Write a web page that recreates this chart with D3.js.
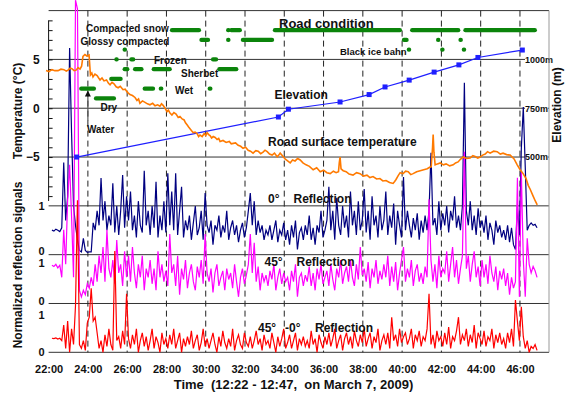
<!DOCTYPE html>
<html>
<head>
<meta charset="utf-8">
<script src="https://cdn.jsdelivr.net/npm/d3@7"></script>
<style>
  body { margin: 0; background: #fff; }
  svg { display: block; font-family: "Liberation Sans", Arial, sans-serif; font-weight: bold; }
  text { white-space: pre; }
</style>
</head>
<body>
<div id="chart"></div>
<script>
// time is in minutes after 12:00, so 22 means 12:22
const xTicks = [22, 24, 26, 28, 30, 32, 34, 36, 38, 40, 42, 44, 46];
const tempTicks = [5, 0, -5];
const elevTicks = [500, 750, 1000];

// road surface temperature [time, degC]
const roadTemp = [
  [21.87,3.86],[22.02,3.75],[22.17,3.95],[22.32,3.85],[22.48,3.85],[22.63,4.0],[22.78,3.95],[22.9,3.8],[22.99,3.9],[23.1,4.1],
  [23.19,4.05],[23.3,3.85],[23.4,3.9],[23.5,4.15],[23.6,4.0],[23.68,4.3],[23.75,5.3],[23.85,5.5],[23.95,5.35],[24.06,5.45],
  [24.13,3.4],[24.2,3.6],[24.26,3.2],[24.36,3.5],[24.47,3.35],[24.55,3.1],[24.62,2.9],[24.72,3.1],[24.82,2.8],[24.95,2.9],
  [25.05,2.55],[25.13,2.4],[25.23,2.65],[25.33,2.5],[25.44,2.2],[25.54,2.1],[25.65,2.25],[25.79,1.9],[25.9,1.95],[25.99,1.7],
  [26.06,1.55],[26.14,1.4],[26.27,1.3],[26.4,1.1],[26.5,0.8],[26.58,0.95],[26.65,0.5],[26.78,0.75],[26.91,0.6],[27.03,0.45],
  [27.16,0.35],[27.3,0.5],[27.42,0.25],[27.55,0.35],[27.67,0.2],[27.75,0.45],[27.83,0.3],[27.93,0.0],[28.03,-0.35],[28.1,-0.2],
  [28.18,-0.5],[28.28,-0.7],[28.38,-0.45],[28.49,-0.6],[28.6,-0.95],[28.69,-0.85],[28.8,-1.1],[28.9,-1.2],[28.97,-1.5],[29.05,-1.7],
  [29.12,-1.9],[29.2,-2.1],[29.28,-2.3],[29.36,-2.5],[29.46,-2.45],[29.56,-2.6],[29.64,-2.9],[29.71,-2.75],[29.82,-2.9],[29.92,-2.6],
  [30.0,-2.8],[30.07,-2.5],[30.15,-2.7],[30.22,-2.8],[30.3,-3.05],[30.38,-2.9],[30.48,-3.0],[30.58,-3.2],[30.66,-3.1],[30.73,-3.4],
  [30.88,-3.3],[31.04,-3.5],[31.2,-3.4],[31.3,-3.65],[31.4,-3.6],[31.52,-3.55],[31.65,-3.8],[31.78,-3.9],[31.9,-4.1],[32.03,-4.0],
  [32.16,-4.3],[32.28,-4.4],[32.41,-4.6],[32.55,-4.35],[32.67,-4.4],[32.8,-4.65],[32.92,-4.5],[33.02,-4.3],[33.13,-4.45],[33.25,-4.7],
  [33.38,-4.8],[33.5,-4.6],[33.64,-4.97],[33.72,-4.8],[33.79,-4.6],[33.92,-4.9],[34.04,-5.2],[34.17,-5.4],[34.3,-5.6],[34.42,-5.3],
  [34.55,-5.4],[34.68,-5.15],[34.81,-5.3],[34.95,-5.6],[35.11,-5.8],[35.28,-5.95],[35.47,-6.3],[35.65,-6.1],[35.83,-6.5],[36.0,-6.35],
  [36.17,-6.6],[36.34,-6.7],[36.5,-6.45],[36.64,-6.6],[36.76,-6.5],[36.8,-5.6],[36.84,-5.0],[36.89,-6.2],[37.0,-6.4],[37.15,-6.5],
  [37.3,-6.75],[37.5,-6.85],[37.68,-6.6],[37.86,-6.7],[38.03,-6.95],[38.21,-6.85],[38.36,-7.1],[38.52,-7.0],[38.7,-7.25],[38.87,-7.2],
  [39.02,-7.45],[39.18,-7.4],[39.36,-7.6],[39.54,-7.7],[39.62,-7.5],[39.69,-7.3],[39.8,-6.9],[39.9,-6.6],[40.05,-6.7],[40.18,-6.45],
  [40.31,-6.5],[40.44,-6.8],[40.56,-6.7],[40.74,-6.5],[40.92,-6.4],[41.1,-6.3],[41.28,-6.2],[41.4,-6.05],[41.48,-6.0],[41.55,-4.0],
  [41.58,-2.7],[41.62,-4.5],[41.68,-5.8],[41.8,-5.7],[41.94,-5.6],[42.1,-5.8],[42.24,-5.7],[42.42,-5.9],[42.6,-5.8],[42.72,-5.6],
  [42.85,-5.5],[42.98,-5.2],[43.11,-5.0],[43.28,-5.15],[43.46,-5.1],[43.6,-4.85],[43.72,-4.95],[43.85,-5.1],[43.97,-5.0],[44.1,-4.8],
  [44.23,-4.7],[44.35,-4.45],[44.48,-4.6],[44.66,-4.4],[44.84,-4.45],[45.0,-4.7],[45.14,-4.6],[45.32,-4.75],[45.5,-4.8],[45.6,-5.0],
  [45.7,-5.2],[45.86,-5.8],[46.01,-6.3],[46.16,-6.7],[46.31,-7.2],[46.42,-7.9],[46.52,-8.3],[46.67,-9.0],[46.78,-9.5],[46.88,-9.9]
];

// elevation [time, m]
const elevation = [
  [23.43,500],[33.70,705],[34.21,745],[36.84,782],[38.32,820],[39.13,859],
  [40.36,894],[41.63,935],[42.89,972],[43.86,1010],[46.12,1048]
];

// road condition levels (1 = Dry ... 8 = Compacted snow), segments [level, from, to]
const roadSegments = [
  [8,28.18,29.76],[8,31.04,31.04],[8,31.2,31.84],[8,33.42,39.99],[8,40.41,42.96],[8,43.12,46.86],
  [7,29.68,30.22],[7,31.04,31.2],[7,31.79,33.48],[7,39.99,40.33],[7,41.73,41.85],[7,42.87,43.09],
  [6,25.77,25.77],[6,40.24,40.44],[6,41.94,42.11],[6,43.04,43.23],
  [5,25.35,25.35],[5,26.11,26.41],[5,30.27,30.63],
  [4,25.77,26.11],[4,26.3,26.83],[4,27.25,28.27],[4,30.59,31.66],
  [3,25.09,25.77],
  [2,23.56,24.41],[2,26.79,27.42],[2,27.61,27.84],[2,30.1,30.34],
  [1,24.31,25.43]
];

// normalized reflection signals, one sample every 0.1 min from 22.17
const signalStart = 22.17;
const signalStep = 0.1;
const refl0 = [
  0.5,0.48,0.52,0.5,0.47,0.55,1.9,0.7,1.2,4.27,
  2.5,1.0,0.6,0.3,0.08,0.05,0.33,0.08,0.04,0.05,
  0.05,0.65,0.5,0.9,0.6,1.58,0.7,1.1,0.5,0.8,
  0.6,1.47,0.45,1.0,0.4,0.9,1.64,0.55,1.2,0.7,
  1.3,0.5,0.8,0.35,1.1,0.6,0.45,1.73,0.6,0.9,
  0.4,1.0,0.55,1.5,0.35,0.8,0.5,1.1,0.45,1.68,
  0.6,1.3,0.5,1.68,0.4,0.9,1.4,0.35,0.7,0.5,
  0.8,0.3,0.65,1.0,0.4,0.55,0.9,0.3,1.27,0.6,
  0.45,0.7,0.2,0.6,0.5,0.8,0.35,0.6,0.45,0.9,
  0.3,0.55,0.7,0.4,0.6,0.25,0.5,0.65,0.35,0.55,
  0.9,1.27,0.6,1.1,0.4,0.7,0.45,0.6,0.3,0.5,
  0.4,0.6,0.3,0.5,0.7,0.25,0.5,0.4,0.65,0.3,
  0.5,0.2,0.6,0.35,0.7,0.1,0.45,0.55,0.3,0.6,
  0.4,0.8,0.3,0.55,0.2,0.6,0.45,0.9,0.35,0.5,
  0.7,1.4,0.5,0.9,0.3,1.17,0.6,0.4,1.0,0.55,
  0.8,0.35,1.3,0.6,0.9,0.4,1.1,0.5,0.7,1.35,
  0.45,0.9,0.3,1.2,0.6,0.8,0.35,1.0,0.5,0.7,
  1.3,0.4,0.8,0.55,1.05,0.2,0.9,0.6,0.35,1.6,
  0.5,0.9,0.6,0.35,0.75,0.5,0.85,0.3,0.7,0.45,
  0.8,0.5,0.9,2.1,0.6,0.75,0.4,1.1,0.5,0.85,
  0.6,1.0,0.45,0.9,0.7,1.2,0.55,0.8,0.5,1.0,
  3.55,0.9,0.6,1.1,0.5,0.8,0.4,0.95,0.55,0.7,
  0.45,0.8,0.3,0.65,0.5,0.2,0.7,0.45,0.6,0.35,
  0.5,0.3,0.6,0.25,0.55,0.2,0.1,1.0,0.4,2.2,
  3.05,1.8,0.5,0.6,0.65,0.6,0.62,0.55
];
const refl45 = [
  0.88,0.85,0.9,0.82,0.88,0.6,1.7,0.9,2.4,3.2,
  2.0,0.6,7.0,6.8,0.3,0.15,0.3,0.2,0.45,0.35,
  0.6,0.4,0.9,0.5,1.1,0.7,1.3,0.5,1.7,0.8,
  0.6,1.0,0.45,1.46,0.7,0.9,0.4,1.2,0.6,1.1,
  0.5,1.3,0.7,0.35,0.9,0.6,1.1,0.3,0.8,0.6,
  1.0,0.45,0.8,0.3,1.2,0.6,0.9,0.5,0.75,0.4,
  1.6,0.7,0.9,0.4,1.1,0.2,0.8,0.55,1.0,0.35,
  0.7,0.9,0.5,0.3,0.85,0.6,1.0,0.45,1.6,0.7,
  0.5,0.8,0.25,0.7,0.9,0.4,0.6,0.75,0.3,0.8,
  0.55,0.7,0.35,0.9,0.5,0.15,0.6,0.8,0.45,0.65,
  0.9,1.6,0.7,1.4,0.5,0.85,0.3,0.7,0.5,0.65,
  0.4,0.75,0.55,0.9,0.3,0.6,0.8,0.45,0.7,0.5,
  0.6,0.3,0.75,0.5,0.9,0.15,0.6,0.7,0.4,0.65,
  0.5,0.85,0.4,0.7,0.3,0.8,0.55,0.9,0.45,0.6,
  0.75,0.4,0.9,0.55,0.3,0.8,0.6,1.0,0.45,0.7,
  0.85,0.5,1.0,0.6,0.4,0.9,0.55,1.3,0.65,0.8,
  0.5,0.95,0.35,0.8,0.6,1.0,0.45,0.75,0.55,0.9,
  0.6,1.1,0.4,0.85,0.5,0.95,0.3,0.7,1.0,1.3,
  0.5,0.8,0.6,1.0,0.4,0.75,0.9,0.5,0.7,0.45,
  0.85,0.6,2.4,1.0,0.5,0.9,0.35,1.1,0.6,0.8,
  0.7,1.2,0.5,0.9,1.3,0.6,1.0,0.45,0.8,1.1,
  3.5,0.8,1.1,0.5,0.9,1.2,0.6,0.85,0.4,1.0,
  0.6,0.9,0.45,1.1,0.7,0.5,0.85,0.3,0.75,0.55,
  0.8,0.4,0.7,0.2,0.6,0.35,0.5,2.9,0.15,3.05,
  1.0,0.15,1.5,0.9,0.7,0.85,0.75,0.6
];
const reflDiff = [
  0.36,0.35,0.37,0.34,0.36,0.3,0.7,0.1,0.8,0.0,
  0.6,0.2,1.2,3.9,0.2,0.1,0.3,0.05,0.75,0.9,
  1.64,0.8,0.9,0.5,0.1,0.3,0.0,0.45,0.15,0.6,
  0.2,0.05,2.6,0.3,0.4,0.1,0.55,0.2,1.5,0.35,
  0.1,0.45,0.2,0.6,0.0,0.3,0.5,0.15,0.4,0.05,
  0.3,0.6,0.1,0.4,0.25,0.0,0.5,0.2,0.35,0.1,
  0.45,0.2,0.6,0.1,0.3,0.5,0.0,0.35,0.15,0.4,
  0.2,0.55,0.1,0.3,0.45,0.05,0.25,0.6,0.15,0.35,
  0.1,0.3,0.5,0.2,0.0,0.4,0.15,0.55,0.25,0.1,
  0.35,0.15,0.6,0.05,0.3,0.45,0.2,0.1,0.5,0.25,
  0.15,0.4,0.1,0.3,0.55,0.2,0.35,0.05,0.45,0.2,
  0.3,0.1,0.5,0.25,0.0,0.4,0.15,0.35,0.6,0.1,
  0.25,0.45,0.1,0.3,0.5,0.05,0.35,0.2,0.4,0.15,
  0.3,0.1,0.55,0.2,0.35,0.0,0.45,0.25,0.1,0.4,
  0.2,0.5,0.15,0.35,0.6,0.1,0.3,0.45,0.05,0.35,
  0.5,0.2,0.4,0.1,0.55,0.3,0.15,0.45,0.25,0.6,
  0.15,0.35,0.5,0.1,0.4,0.25,0.6,0.05,0.3,0.45,
  0.2,0.5,0.1,0.9,0.3,0.45,0.15,0.6,0.25,0.4,
  0.5,0.2,0.35,0.6,0.1,0.45,0.3,0.55,0.15,0.4,
  0.3,0.6,1.5,0.2,0.45,0.1,0.55,0.3,0.4,0.15,
  0.5,0.2,0.65,0.1,0.4,0.3,0.55,0.9,0.2,0.45,
  0.3,0.6,0.15,0.45,0.25,0.7,0.1,0.5,0.35,0.2,
  0.55,0.15,0.4,0.3,0.6,0.1,0.45,0.25,0.5,0.2,
  0.35,0.1,0.5,0.25,0.6,0.15,1.34,0.8,0.3,1.17,
  0.4,0.1,0.3,0.0,0.15,0.1,0.2,0.05
];

const width = 565, height = 394;
const ink = '#111';

const svg = d3.select('#chart')
  .append('svg')
  .attr('width', width)
  .attr('height', height);

const x = d3.scaleLinear().domain([22, 47]).range([48.6, 539.6]);
const yTemp = d3.scaleLinear().domain([-25, 10]).range([352.3, 10.6]);
const yElev = d3.scaleLinear().domain([-500, 1250]).range([352.3, 10.6]);
const yR0 = d3.scaleLinear().domain([0, 1]).range([254.3, 206]);
const yR45 = d3.scaleLinear().domain([0, 1]).range([303.3, 260]);
const yRD = d3.scaleLinear().domain([0, 1]).range([352.3, 313.3]);
const yRoad = d3.scaleLinear().domain([1, 8]).range([yTemp(1), yTemp(8)]);
const xRight = 549;

// horizontal grid, one line every 5 degC
svg.append('g')
  .selectAll('line')
  .data(d3.range(-25, 11, 5))
  .join('line')
  .attr('x1', x(22))
  .attr('x2', xRight)
  .attr('y1', d => yTemp(d))
  .attr('y2', d => yTemp(d))
  .attr('stroke', '#333')
  .attr('stroke-width', 1);

// dashed vertical grid
svg.append('g')
  .selectAll('line')
  .data(xTicks.slice(1))
  .join('line')
  .attr('x1', d => x(d))
  .attr('x2', d => x(d))
  .attr('y1', yTemp(10))
  .attr('y2', yTemp(-25))
  .attr('stroke', '#222')
  .attr('stroke-dasharray', '6,4');

// temperature axis
const tempAxis = svg.append('g')
  .attr('transform', `translate(${x(22)},0)`)
  .call(d3.axisRight(yTemp).tickValues(d3.range(-9, 10)).tickSize(4).tickFormat(''));
tempAxis.select('.domain').remove();
tempAxis.selectAll('line').attr('stroke', ink);
tempAxis.append('line')
  .attr('y1', yTemp(9))
  .attr('y2', yTemp(-9.5))
  .attr('stroke', ink);

function styleLabels(g, size) {
  g.select('.domain').remove();
  g.selectAll('text')
    .attr('fill', ink)
    .style('font-size', size + 'px')
    .style('font-weight', 'bold');
}

svg.append('g')
  .attr('transform', `translate(${x(22)},0)`)
  .call(d3.axisLeft(yTemp).tickValues(tempTicks).tickSize(0).tickPadding(9))
  .call(g => styleLabels(g, 12));

// 0 / 1 labels of the three signal bands; the stacked pairs are nudged apart
[[yR0, 0, -3], [yR45, 2.5, -2], [yRD, 2, 0]].forEach(([s, oneShift, zeroShift]) => {
  svg.append('g')
    .attr('transform', `translate(${x(22)},0)`)
    .call(d3.axisLeft(s).tickValues([0, 1]).tickSize(0).tickPadding(4).tickFormat(d3.format('d')))
    .call(g => styleLabels(g, 11))
    .selectAll('text')
    .attr('y', d => d === 1 ? oneShift : zeroShift);
});

svg.append('g')
  .attr('transform', `translate(0,${yTemp(-25)})`)
  .call(d3.axisBottom(x).tickValues(xTicks).tickSize(0).tickPadding(13).tickFormat(d => d + ':00'))
  .call(g => styleLabels(g, 11));

// elevation labels sit inside the right edge
const elevAxis = svg.append('g')
  .attr('transform', 'translate(525,0)')
  .call(d3.axisRight(yElev).tickValues(elevTicks).tickSize(0).tickPadding(0).tickFormat(d => d + 'm'))
  .call(g => styleLabels(g, 9));
elevAxis.selectAll('.tick')
  .insert('rect', 'text')
  .attr('x', 0)
  .attr('y', -5)
  .attr('width', 23)
  .attr('height', 10)
  .attr('fill', '#fff');

// right border
svg.append('line')
  .attr('x1', xRight).attr('x2', xRight)
  .attr('y1', yTemp(10)).attr('y2', yTemp(-25))
  .attr('stroke', '#999');

// reflection signals
const signalLine = s => d3.line()
  .x((d, i) => x(signalStart + i * signalStep))
  .y(d => s(d));

svg.append('path')
  .datum(refl0)
  .attr('d', signalLine(yR0))
  .attr('fill', 'none')
  .attr('stroke', '#000080')
  .attr('stroke-width', 1.2);

svg.append('path')
  .datum(refl45)
  .attr('d', signalLine(yR45))
  .attr('fill', 'none')
  .attr('stroke', '#ff00ff')
  .attr('stroke-width', 1.2);

svg.append('path')
  .datum(reflDiff)
  .attr('d', signalLine(yRD))
  .attr('fill', 'none')
  .attr('stroke', '#ff0000')
  .attr('stroke-width', 1.2);

// road condition segments
svg.append('g')
  .selectAll('line')
  .data(roadSegments)
  .join('line')
  .attr('x1', d => x(d[1]) + 2)
  .attr('x2', d => Math.max(x(d[2]) - 2, x(d[1]) + 2.3))
  .attr('y1', d => yRoad(d[0]))
  .attr('y2', d => yRoad(d[0]))
  .attr('stroke', '#0b840b')
  .attr('stroke-width', 4.2)
  .attr('stroke-linecap', 'round');

// elevation
svg.append('path')
  .datum(elevation)
  .attr('d', d3.line().x(d => x(d[0])).y(d => yElev(d[1])))
  .attr('fill', 'none')
  .attr('stroke', '#1f1fff')
  .attr('stroke-width', 1.2);

svg.append('g')
  .selectAll('rect')
  .data(elevation)
  .join('rect')
  .attr('x', d => x(d[0]) - 2.5)
  .attr('y', d => yElev(d[1]) - 2.5)
  .attr('width', 5)
  .attr('height', 5)
  .attr('fill', '#1f1fff');

// road surface temperature
svg.append('path')
  .datum(roadTemp)
  .attr('d', d3.line().x(d => x(d[0])).y(d => yTemp(d[1])))
  .attr('fill', 'none')
  .attr('stroke', '#ff7a00')
  .attr('stroke-width', 1.6);

// water arrow
svg.append('line')
  .attr('x1', x(24)).attr('x2', x(24))
  .attr('y1', 121).attr('y2', 96)
  .attr('stroke', '#555')
  .attr('stroke-width', 1.2);
svg.append('path')
  .attr('d', `M${x(24)},90.5 l-3,6 l6,0 z`)
  .attr('fill', ink);

// annotations
const notes = [
  ['Road condition', 279, 27.5, 13],
  ['Compacted snow', 86, 32, 10],
  ['Glossy compacted', 80.5, 45, 10],
  ['Frozen', 154, 64, 10],
  ['Sherbet', 181, 76.5, 10],
  ['Wet', 175, 94, 10],
  ['Dry', 100.5, 111, 10],
  ['Water', 87, 132.5, 10],
  ['Black ice bahn', 340, 55, 9.5],
  ['Elevation', 274.5, 98.5, 12],
  ['Road surface temperature', 268, 145.5, 12],
  ['0\u00b0', 268, 203, 12],
  ['Reflection', 293.5, 203, 12],
  ['45\u00b0', 264.5, 266, 12],
  ['Reflection', 296.5, 266, 12],
  ['45\u00b0', 258, 331.5, 12],
  ['-0\u00b0', 285, 331.5, 12],
  ['Reflection', 315, 331.5, 12]
];
svg.append('g')
  .selectAll('text')
  .data(notes)
  .join('text')
  .attr('x', d => d[1])
  .attr('y', d => d[2])
  .style('font-size', d => d[3] + 'px')
  .attr('fill', ink)
  .text(d => d[0]);

// axis titles
svg.append('text')
  .attr('transform', 'translate(22,111) rotate(-90)')
  .attr('text-anchor', 'middle')
  .style('font-size', '12px')
  .attr('fill', ink)
  .text('Temperature (\u00b0C)');

svg.append('text')
  .attr('transform', 'translate(22,265) rotate(-90)')
  .attr('text-anchor', 'middle')
  .style('font-size', '12px')
  .attr('fill', ink)
  .text('Normalized reflection signals');

svg.append('text')
  .attr('transform', 'translate(561,105) rotate(-90)')
  .attr('text-anchor', 'middle')
  .style('font-size', '12px')
  .attr('fill', ink)
  .text('Elevation (m)');

svg.append('text')
  .attr('x', 293.5)
  .attr('y', 389)
  .attr('text-anchor', 'middle')
  .style('font-size', '13px')
  .attr('fill', ink)
  .text('Time  (12:22 - 12:47,  on March 7, 2009)');
</script>
</body>
</html>
